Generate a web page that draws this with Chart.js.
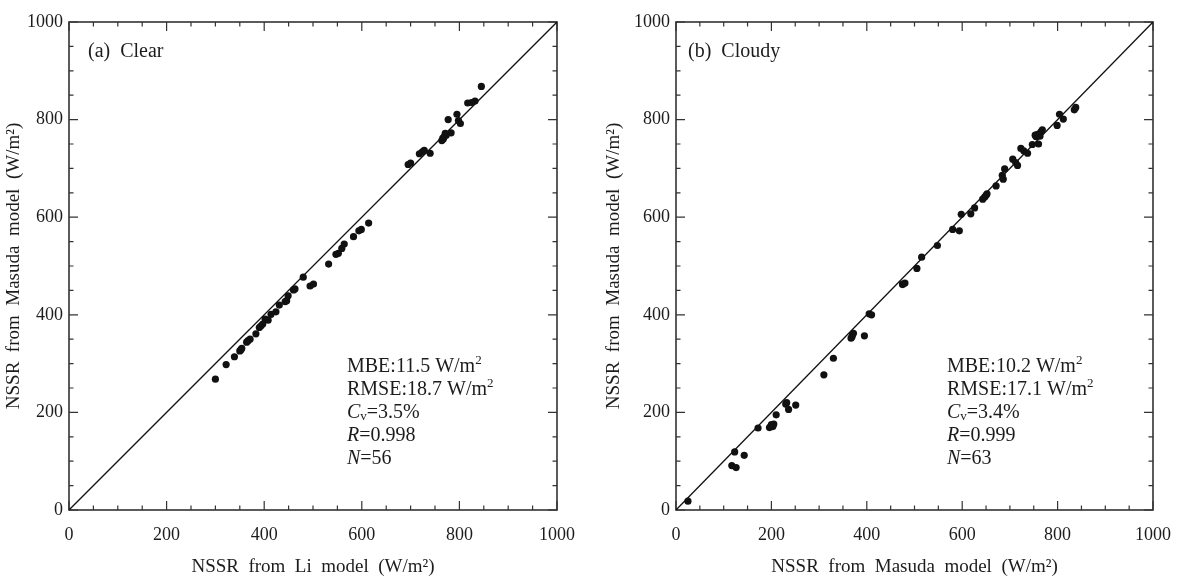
<!DOCTYPE html>
<html lang="en">
  <head>
    <meta charset="UTF-8" />
    <title>NSSR Li x Masuda</title>
    <script src="https://cdn.jsdelivr.net/npm/chart.js"></script>
    <style>
      html,
      body {
        margin: 0;
        padding: 0;
        background: #fff;
      }
      .painel {
        position: absolute;
        top: 0;
      }
      #painelA {
        left: 0;
      }
      #painelB {
        left: 600px;
      }
    </style>
  </head>
  <body>
    <div class="painel" id="painelA">
      <canvas id="grafA" width="590" height="577"></canvas>
    </div>
    <div class="painel" id="painelB">
      <canvas id="grafB" width="585" height="577"></canvas>
    </div>

    <script>
      // (a) Clear: Li model (x) vs Masuda model (y)
      const clearX = [
        300, 322, 339, 350, 352, 354, 364, 367, 371, 383, 390, 393, 397, 402,
        408, 414, 424, 431, 443, 446, 449, 460, 463, 480, 494, 501,
        532, 547, 552, 559, 564, 583, 594, 599, 614,
        695, 700, 718, 724, 728, 740, 764, 766, 767, 769, 771, 773, 777, 783,
        795, 798, 802, 817, 825, 832, 845
      ]
      const clearY = [
        268, 298, 314, 326, 328, 331, 344, 347, 350, 361, 374, 377, 381, 391,
        389, 401, 406, 420, 427, 429, 439, 451, 453, 477, 459, 463,
        504, 524, 526, 536, 545, 560, 572, 575, 588,
        708, 711, 730, 734, 737, 731, 757, 762, 760, 765, 772, 768, 800, 773,
        811, 798, 792, 834, 835, 838, 868
      ]

      // (b) Cloudy: Masuda model (x) vs Masuda model (y)
      const cloudyX = [
        25, 117, 126, 123, 143, 172, 196, 199, 200, 203, 205, 210, 230, 232,
        236, 251, 310, 330, 367, 369, 370, 372, 395, 405, 410, 475, 475, 480,
        505, 515, 548, 580, 594, 598, 618, 626, 643, 647, 650, 652, 671, 684,
        686, 689, 706, 712, 716, 723, 729, 737, 747, 753, 755, 758, 760, 763,
        765, 768, 799, 804, 812, 835, 838
      ]
      const cloudyY = [
        18, 91, 87, 119, 112, 168, 169, 172, 175, 171, 176, 195, 217, 220,
        206, 215, 277, 311, 352, 355, 359, 362, 357, 402, 400, 462, 463, 465,
        495, 518, 542, 575, 572, 606, 607, 619, 637, 641, 645, 648, 664, 686,
        678, 699, 719, 712, 706, 741, 736, 731, 749, 768, 765, 770, 750, 766,
        775, 779, 788, 811, 801, 820, 825
      ]

      // linha 1:1
      const diagX = [0, 1000]
      const diagY = [0, 1000]

      const eixoMin = 0
      const eixoMax = 1000

      const rotuloA = '(a)  Clear'
      const rotuloB = '(b)  Cloudy'
      const estatA = { mbe: '11.5', rmse: '18.7', cv: '3.5%', r: '0.998', n: '56' }
      const estatB = { mbe: '10.2', rmse: '17.1', cv: '3.4%', r: '0.999', n: '63' }

      const tituloXA = 'NSSR  from  Li  model  (W/m²)'
      const tituloXB = 'NSSR  from  Masuda  model  (W/m²)'
      const tituloY = 'NSSR  from  Masuda  model  (W/m²)'

      const fonte = '"Liberation Serif", "DejaVu Serif", serif'
      const corTexto = '#1c1c1c'
      const corEixo = '#333'

      // escreve uma linha com partes em itálico / sobrescrito / subscrito
      function escreverLinha(ctx, x, y, partes) {
        partes.forEach(function (p) {
          const tam = p.sup || p.sub ? 13 : 20
          ctx.font = (p.it ? 'italic ' : '') + tam + 'px ' + fonte
          let dy = 0
          if (p.sup) dy = -6
          if (p.sub) dy = 4
          ctx.fillText(p.t, x, y + dy)
          x += ctx.measureText(p.t).width
        })
      }

      // moldura com ticks para dentro nos quatro lados + textos
      const moldura = {
        id: 'moldura',
        beforeDatasetsDraw(chart) {
          const { ctx, chartArea: a } = chart
          const sx = chart.scales.x
          const sy = chart.scales.y
          ctx.save()
          ctx.strokeStyle = corEixo
          ctx.lineWidth = 1.2
          ctx.beginPath()
          sx.ticks.forEach(function (t) {
            const tam = t.value % 200 === 0 ? 9 : 4.5
            const px = sx.getPixelForValue(t.value)
            ctx.moveTo(px, a.bottom)
            ctx.lineTo(px, a.bottom - tam)
            ctx.moveTo(px, a.top)
            ctx.lineTo(px, a.top + tam)
          })
          sy.ticks.forEach(function (t) {
            const tam = t.value % 200 === 0 ? 9 : 4.5
            const py = sy.getPixelForValue(t.value)
            ctx.moveTo(a.left, py)
            ctx.lineTo(a.left + tam, py)
            ctx.moveTo(a.right, py)
            ctx.lineTo(a.right - tam, py)
          })
          ctx.stroke()
          ctx.lineWidth = 1.6
          ctx.strokeRect(a.left, a.top, a.right - a.left, a.bottom - a.top)
          ctx.restore()
        },
        afterDraw(chart) {
          const ctx = chart.ctx
          const op = chart.options.plugins.moldura
          const e = op.estat
          ctx.save()
          ctx.fillStyle = corTexto
          ctx.textBaseline = 'middle'
          ctx.textAlign = 'left'
          escreverLinha(ctx, 88, 52, [{ t: op.rotulo }])
          const linhas = [
            [{ t: 'MBE:' + e.mbe + ' W/m' }, { t: '2', sup: true }],
            [{ t: 'RMSE:' + e.rmse + ' W/m' }, { t: '2', sup: true }],
            [{ t: 'C', it: true }, { t: 'v', sub: true }, { t: '=' + e.cv }],
            [{ t: 'R', it: true }, { t: '=' + e.r }],
            [{ t: 'N', it: true }, { t: '=' + e.n }]
          ]
          linhas.forEach(function (l, i) {
            escreverLinha(ctx, 347, 367 + i * 23, l)
          })
          ctx.restore()
        }
      }

      function montarGrafico(id, xs, ys, cfg) {
        const pontos = xs.map(function (v, i) {
          return { x: v, y: ys[i] }
        })
        const diagonal = diagX.map(function (v, i) {
          return { x: v, y: diagY[i] }
        })

        const fonteTick = { family: fonte, size: 18 }
        const fonteTitulo = { family: fonte, size: 19, lineHeight: 1 }
        const rotuloTick = function (v) {
          return v % 200 === 0 ? v : ''
        }

        return new Chart(document.getElementById(id), {
          type: 'scatter',
          data: {
            datasets: [
              {
                data: diagonal,
                showLine: true,
                borderColor: '#111',
                borderWidth: 1.3,
                pointRadius: 0,
                order: 2
              },
              {
                data: pontos,
                backgroundColor: '#111',
                borderWidth: 0,
                pointRadius: 3.6,
                order: 1
              }
            ]
          },
          options: {
            responsive: false,
            animation: false,
            layout: { padding: { top: 22, right: cfg.direita, left: 0, bottom: 0 } },
            plugins: {
              legend: { display: false },
              tooltip: { enabled: false },
              moldura: { rotulo: cfg.rotulo, estat: cfg.estat }
            },
            scales: {
              x: {
                type: 'linear',
                min: eixoMin,
                max: eixoMax,
                grid: { display: false, drawTicks: false },
                border: { display: false },
                ticks: {
                  stepSize: 50,
                  autoSkip: false,
                  maxRotation: 0,
                  padding: 14,
                  font: fonteTick,
                  color: corTexto,
                  callback: rotuloTick
                },
                title: {
                  display: true,
                  text: cfg.tituloX,
                  font: fonteTitulo,
                  color: corTexto,
                  padding: { top: 0, bottom: 0 }
                },
                afterFit(scale) {
                  scale.height = 67
                }
              },
              y: {
                type: 'linear',
                min: eixoMin,
                max: eixoMax,
                grid: { display: false, drawTicks: false },
                border: { display: false },
                ticks: {
                  stepSize: 50,
                  autoSkip: false,
                  padding: 6,
                  font: fonteTick,
                  color: corTexto,
                  callback: rotuloTick
                },
                title: {
                  display: true,
                  text: tituloY,
                  font: fonteTitulo,
                  color: corTexto,
                  padding: { top: 5, bottom: 0 }
                },
                afterFit(scale) {
                  scale.width = cfg.larguraY
                }
              }
            }
          },
          plugins: [moldura]
        })
      }

      montarGrafico('grafA', clearX, clearY, {
        rotulo: rotuloA,
        estat: estatA,
        tituloX: tituloXA,
        larguraY: 69,
        direita: 33
      })
      montarGrafico('grafB', cloudyX, cloudyY, {
        rotulo: rotuloB,
        estat: estatB,
        tituloX: tituloXB,
        larguraY: 76,
        direita: 21
      })
    </script>
  </body>
</html>
